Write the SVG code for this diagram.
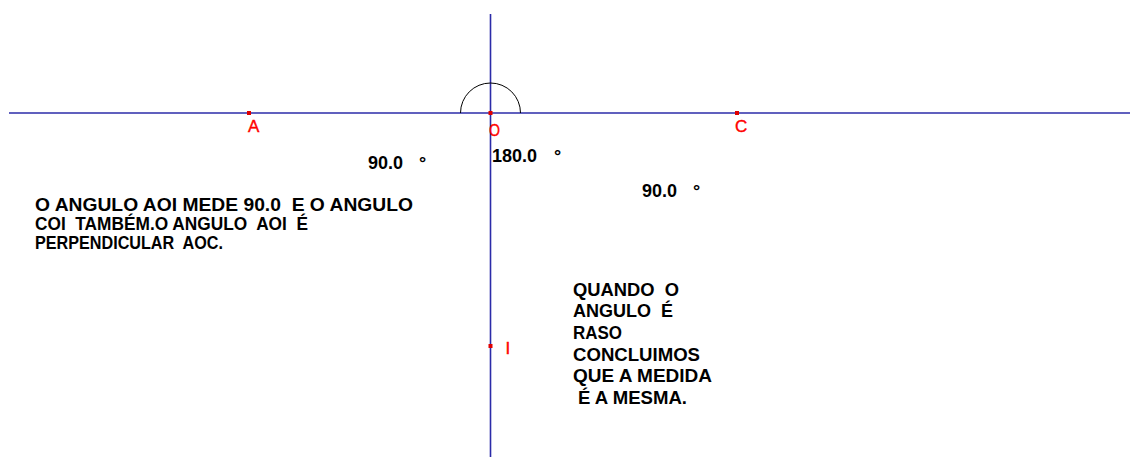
<svg xmlns="http://www.w3.org/2000/svg" width="1130" height="457" viewBox="0 0 1130 457">
<style>
.ln{stroke:#2b2ba8;stroke-width:1.6;fill:none}
.pt{fill:#e00000}
.lbl{font-family:"Liberation Sans",Arial,sans-serif;font-size:17px;fill:#ff0000;stroke:#ff0000;stroke-width:0.4}
.t{font-family:"Liberation Sans",Arial,sans-serif;font-size:18px;font-weight:bold;fill:#000}
</style>
<rect width="1130" height="457" fill="#fff"/>
<g id="connectors">
<line class="ln" x1="9" y1="113" x2="1130" y2="113"/>
<line class="ln" x1="490.5" y1="14" x2="490.5" y2="457"/>
<path d="M460.5 113 A30 30 0 0 1 520.5 113" stroke="#000" stroke-width="1" fill="none"/>
</g>
<g id="A"><rect class="pt" x="247" y="111" width="4" height="4"/><text class="lbl" x="248" y="132">A</text></g>
<g id="O"><rect class="pt" x="488.5" y="111" width="4" height="4"/><text class="lbl" x="489" y="136" textLength="11" lengthAdjust="spacingAndGlyphs">O</text></g>
<g id="C"><rect class="pt" x="735" y="111" width="4" height="4"/><text class="lbl" x="735" y="132">C</text></g>
<g id="I"><rect class="pt" x="488.5" y="344" width="4" height="4"/><text class="lbl" x="505.5" y="354">I</text></g>
<g id="angles">
<text class="t" x="368" y="169">90.0</text><text class="t" x="419" y="169">°</text>
<text class="t" x="492" y="162">180.0</text><text class="t" x="554" y="162">°</text>
<text class="t" x="642" y="197">90.0</text><text class="t" x="693" y="197">°</text>
</g>
<g id="text1">
<text class="t" x="35" y="211" textLength="378" lengthAdjust="spacingAndGlyphs" xml:space="preserve">O ANGULO AOI MEDE 90.0  E O ANGULO</text>
<text class="t" x="35" y="230" textLength="273" lengthAdjust="spacingAndGlyphs" xml:space="preserve">COI  TAMBÉM.O ANGULO  AOI  É</text>
<text class="t" x="35" y="248.5" textLength="188" lengthAdjust="spacingAndGlyphs" xml:space="preserve">PERPENDICULAR  AOC.</text>
</g>
<g id="text2">
<text class="t" x="573" y="296" textLength="106" lengthAdjust="spacingAndGlyphs" xml:space="preserve">QUANDO  O</text>
<text class="t" x="573" y="317" textLength="100" lengthAdjust="spacingAndGlyphs" xml:space="preserve">ANGULO  É</text>
<text class="t" x="573" y="339" textLength="49" lengthAdjust="spacingAndGlyphs">RASO</text>
<text class="t" x="573" y="361" textLength="127" lengthAdjust="spacingAndGlyphs">CONCLUIMOS</text>
<text class="t" x="573" y="382" textLength="139" lengthAdjust="spacingAndGlyphs">QUE A MEDIDA</text>
<text class="t" x="578" y="404" textLength="109" lengthAdjust="spacingAndGlyphs">É A MESMA.</text>
</g>
</svg>
